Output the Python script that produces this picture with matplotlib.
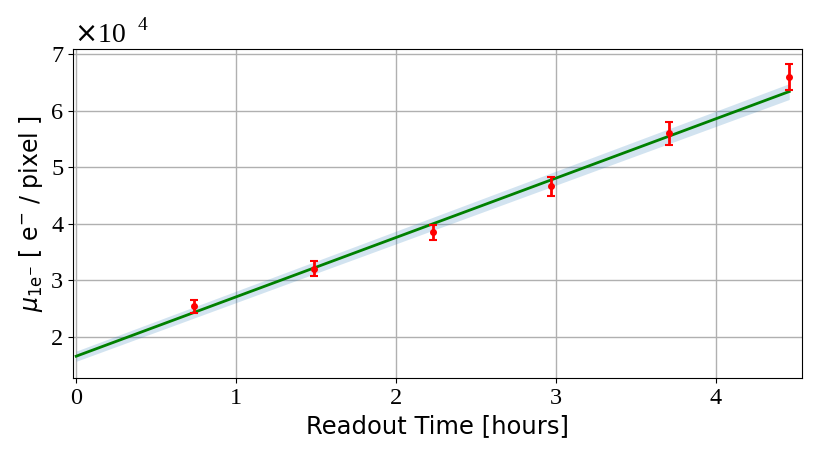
import matplotlib
matplotlib.use("Agg")
import matplotlib.pyplot as plt
import numpy as np

# donnees (unites de 1e4 e-/pixel)
readout_time = [0.74, 1.49, 2.23, 2.97, 3.71, 4.46]
mu_1e = [2.54, 3.21, 3.85, 4.66, 5.60, 6.60]
mu_err = [0.12, 0.13, 0.13, 0.17, 0.20, 0.23]

# ajustement lineaire
slope = 1.049
intercept = 1.66
band_start = 0.09
band_end = 0.14

t_fit = np.linspace(0, readout_time[-1], 100)
y_fit = (slope * t_fit + intercept) * 1e4
band = (band_start + (band_end - band_start) * t_fit / t_fit[-1]) * 1e4

fig = plt.figure(figsize=(8.22, 4.59), dpi=100)
ax = fig.add_axes([0.0888, 0.1765, 0.8869, 0.7167])

ax.fill_between(t_fit, y_fit - band, y_fit + band, color='tab:blue', alpha=0.2, lw=0)
ax.plot(t_fit, y_fit, color='green', lw=2)
ax.errorbar(readout_time, np.array(mu_1e) * 1e4, yerr=np.array(mu_err) * 1e4,
            fmt='o', color='red', ms=4, elinewidth=2, capsize=3, capthick=1.5)

ax.set_xlim(-0.02, 4.54)
ax.set_ylim(1.275e4, 7.09e4)
ax.grid(True, color='#b0b0b0', lw=1)
ax.set_axisbelow(True)

ax.ticklabel_format(axis='y', style='sci', scilimits=(4, 4))
ax.yaxis.get_offset_text().set_visible(False)
ax.tick_params(labelsize=17.5, labelfontfamily='Liberation Serif')

# facteur d'echelle
ax.text(0.002, 1.021, r'$\times$10', transform=ax.transAxes, family='Liberation Serif',
        fontsize=20, ha='left', va='baseline')
ax.text(0.088, 1.058, '4', transform=ax.transAxes, family='Liberation Serif',
        fontsize=14, ha='left', va='baseline')

ax.set_xlabel('Readout Time [hours]', fontsize=17.5)
ax.set_ylabel(r'$\mu_{\rm 1e^{-}}$ [ e$^{-}$ / pixel ]', fontsize=17)

fig.savefig('out.png', dpi=100)
